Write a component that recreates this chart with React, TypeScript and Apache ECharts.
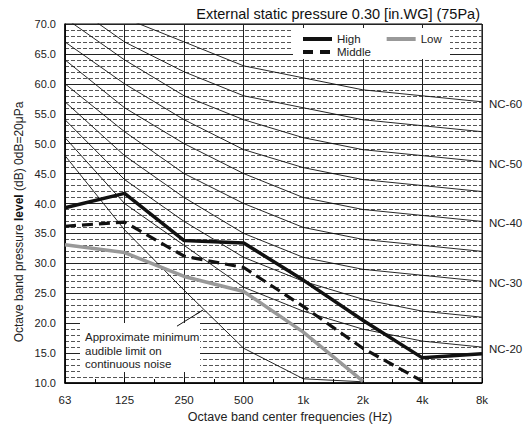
import React, { useEffect, useRef } from 'react';
import * as echarts from 'echarts';

const freqLabels = ['63', '125', '250', '500', '1k', '2k', '4k', '8k'];

const ncNames = ['NC-20', 'NC-25', 'NC-30', 'NC-35', 'NC-40', 'NC-45', 'NC-50', 'NC-55', 'NC-60'];
const nc20 = [51, 40, 33, 26, 22, 19, 17, 16];
const nc25 = [54, 44, 37, 31, 27, 24, 22, 21];
const nc30 = [57, 48, 41, 35, 31, 29, 28, 27];
const nc35 = [60, 52, 45, 40, 36, 34, 33, 32];
const nc40 = [64, 56, 50, 45, 41, 39, 38, 37];
const nc45 = [67, 60, 54, 49, 46, 44, 43, 42];
const nc50 = [71, 64, 58, 54, 51, 49, 48, 47];
const nc55 = [74, 67, 62, 58, 56, 54, 53, 52];
const nc60 = [77, 71, 67, 63, 61, 59, 58, 57];
const ncValues = [nc20, nc25, nc30, nc35, nc40, nc45, nc50, nc55, nc60];
const ncLabelled = ['NC-20', 'NC-30', 'NC-40', 'NC-50', 'NC-60'];

const audibleLimit = [48, 35.6, 25.5, 15.8, 10.7, 10.2, null, null];

const high = [39.3, 41.7, 33.8, 33.4, 27.2, 20.5, 14.2, 14.9];
const middle = [36.2, 36.9, 31.2, 29.3, 22.8, 15.8, 10.3, null];
const low = [33.1, 31.8, 27.8, 25.3, 18.5, 10.3, null, null];

const annotationLines = ['Approximate minimum', 'audible limit on', 'continuous noise'];
const arrowFrom = [1.88, 19.5];
const arrowTo = [2.317, 22.2];

const FONT = '"Liberation Sans", Arial, Helvetica, sans-serif';

const SOLID_ICON = 'path://M0,0H29V4H0Z';
const DASH_ICON = 'path://M0,0H10V4H0Z M17,0H27V4H17Z M29,0H29V4H29Z';

const toPts = (arr: (number | null)[]) => arr.map((v, i) => [i, v]);

export default function App() {
  const ref = useRef<HTMLDivElement>(null);
  useEffect(() => {
    const chart = echarts.init(ref.current!, null, { renderer: 'svg' });
    const ncSeries = ncNames.map((name, k) => ({
      name,
      type: 'line',
      data: toPts(ncValues[k]),
      symbol: 'none',
      silent: true,
      z: 2,
      lineStyle: { color: '#111', width: 0.9 },
      endLabel: ncLabelled.includes(name)
        ? { show: true, formatter: name, distance: 7, offset: [0, 2], fontSize: 11.5, color: '#222', fontFamily: FONT }
        : { show: false },
    }));
    const legendText = { fontSize: 11.5, color: '#222', fontFamily: FONT };
    const option: any = {
      animation: false,
      textStyle: { fontFamily: FONT },
      grid: { left: 65, right: 42, top: 24, bottom: 42, show: true, borderColor: '#000', borderWidth: 1 },
      xAxis: {
        type: 'value',
        min: 0,
        max: 7,
        interval: 1,
        axisLine: { show: true, lineStyle: { color: '#000', width: 1.5 } },
        axisTick: { show: true, inside: true, length: 5, lineStyle: { color: '#000' } },
        minorTick: { show: true, splitNumber: 2, length: 4, lineStyle: { color: '#000' } },
        axisLabel: { margin: 11, fontSize: 11.5, color: '#222', formatter: (v: number) => freqLabels[v] ?? '' },
        splitLine: { show: true, lineStyle: { color: '#222', width: 1 } },
      },
      yAxis: {
        type: 'value',
        min: 10,
        max: 70,
        interval: 5,
        axisLine: { show: true, lineStyle: { color: '#000', width: 1.5 } },
        axisTick: { show: false },
        minorTick: { show: false, splitNumber: 5 },
        minorSplitLine: { show: true, lineStyle: { color: '#555', width: 1, type: [4, 2] } },
        axisLabel: { margin: 9, fontSize: 11, color: '#222', formatter: (v: number) => v.toFixed(1) },
        splitLine: { show: true, lineStyle: { color: '#222', width: 1 } },
      },
      legend: [
        {
          data: [
            { name: 'High', icon: SOLID_ICON },
            { name: 'Low', icon: SOLID_ICON },
          ],
          left: 303,
          top: 33,
          padding: 0,
          itemWidth: 29,
          itemHeight: 4,
          itemGap: 26,
          z: 10,
          textStyle: legendText,
        },
        {
          data: [{ name: 'Middle', icon: DASH_ICON }],
          left: 303,
          top: 46,
          padding: 0,
          itemWidth: 29,
          itemHeight: 4,
          z: 10,
          textStyle: legendText,
        },
      ],
      graphic: [
        {
          type: 'text',
          x: 480,
          y: 14,
          z: 10,
          style: {
            text: 'External static pressure 0.30 [in.WG] (75Pa)',
            fontSize: 14.5,
            fontFamily: FONT,
            fill: '#111',
            align: 'right',
            verticalAlign: 'middle',
          },
        },
        {
          type: 'text',
          x: 19,
          y: 222,
          rotation: Math.PI / 2,
          z: 10,
          style: {
            text: 'Octave band pressure {b|level} (dB) 0dB=20μPa',
            fontSize: 12,
            fontFamily: FONT,
            fill: '#222',
            align: 'center',
            verticalAlign: 'middle',
            rich: { b: { fontWeight: 'bold', fontSize: 12, fontFamily: FONT, fill: '#111' } },
          },
        },
        {
          type: 'text',
          x: 290,
          y: 417,
          z: 10,
          style: {
            text: 'Octave band center frequencies (Hz)',
            fontSize: 12.5,
            fontFamily: FONT,
            fill: '#222',
            align: 'center',
            verticalAlign: 'middle',
          },
        },
        {
          type: 'rect',
          z: 8,
          shape: { x: 293, y: 28, width: 157, height: 31 },
          style: { fill: '#fff' },
        },
        {
          type: 'rect',
          z: 1,
          shape: { x: 80, y: 323, width: 120, height: 49 },
          style: { fill: '#fff' },
        },
        ...annotationLines.map((t, i) => ({
          type: 'text',
          x: 85,
          y: 337 + i * 13.5,
          z: 9,
          style: { text: t, fontSize: 11.5, fontFamily: FONT, fill: '#222', align: 'left', verticalAlign: 'middle' },
        })),
      ],
      series: [
        ...ncSeries,
        {
          name: 'Audible limit',
          type: 'line',
          data: toPts(audibleLimit),
          symbol: 'none',
          silent: true,
          z: 2,
          lineStyle: { color: '#111', width: 0.9 },
          markLine: {
            silent: true,
            symbol: ['none', 'arrow'],
            symbolSize: [1, 9],
            label: { show: false },
            lineStyle: { color: '#111', width: 1, type: 'solid' },
            data: [[{ coord: arrowFrom }, { coord: arrowTo }]],
          },
        },
        {
          name: 'High',
          type: 'line',
          data: toPts(high),
          symbol: 'none',
          z: 5,
          lineStyle: { color: '#111', width: 3.5 },
          itemStyle: { color: '#111' },
        },
        {
          name: 'Middle',
          type: 'line',
          data: toPts(middle),
          symbol: 'none',
          z: 5,
          lineStyle: { color: '#111', width: 3.2, type: [11, 6] },
          itemStyle: { color: '#111' },
        },
        {
          name: 'Low',
          type: 'line',
          data: toPts(low),
          symbol: 'none',
          z: 5,
          lineStyle: { color: '#999', width: 3.5 },
          itemStyle: { color: '#999' },
        },
      ],
    };
    chart.setOption(option);
    return () => chart.dispose();
  }, []);
  return (
    <div
      ref={ref}
      style={{ position: 'fixed', left: 0, top: 0, width: 524, height: 425, background: '#fff' }}
    />
  );
}
